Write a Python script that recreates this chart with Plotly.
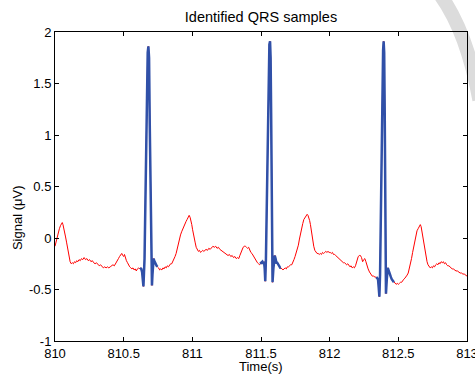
import plotly.graph_objects as go

# ---------------- data ----------------
x_ticks = [810, 810.5, 811, 811.5, 812, 812.5, 813]
x_ticktext = ["810", "810.5", "811", "811.5", "812", "812.5", "813"]
y_ticks = [-1, -0.5, 0, 0.5, 1, 1.5, 2]
y_ticktext = ["-1", "-0.5", "0", "0.5", "1", "1.5", "2"]

# baseline (non-QRS) segments
t_base1 = [810.000, 810.008, 810.016, 810.024, 810.032, 810.040, 810.047, 810.053, 810.058, 810.064,
           810.070, 810.077, 810.084, 810.090, 810.096, 810.102, 810.110, 810.118, 810.126, 810.134,
           810.142, 810.150, 810.158, 810.166, 810.175, 810.184, 810.193, 810.202, 810.212, 810.222,
           810.232, 810.242, 810.252, 810.262, 810.272, 810.282, 810.292, 810.302, 810.312, 810.322,
           810.332, 810.342, 810.352, 810.362, 810.372, 810.382, 810.392, 810.402, 810.412, 810.422,
           810.432, 810.442, 810.452, 810.462, 810.470, 810.478, 810.486, 810.494, 810.500, 810.506,
           810.512, 810.520, 810.528, 810.536, 810.544, 810.552, 810.560, 810.568, 810.576, 810.584,
           810.592, 810.600, 810.608, 810.614, 810.620]
v_base1 = [-0.08, -0.03, 0.02, 0.06, 0.09, 0.12, 0.14, 0.15, 0.13, 0.10,
           0.06, 0.01, -0.04, -0.09, -0.15, -0.20, -0.23, -0.25, -0.24, -0.25,
           -0.23, -0.24, -0.22, -0.23, -0.21, -0.22, -0.20, -0.21, -0.19, -0.21,
           -0.20, -0.22, -0.21, -0.23, -0.22, -0.24, -0.25, -0.24, -0.26, -0.27,
           -0.26, -0.28, -0.29, -0.28, -0.29, -0.28, -0.29, -0.28, -0.27, -0.26,
           -0.27, -0.25, -0.23, -0.20, -0.18, -0.16, -0.15, -0.17, -0.18, -0.16,
           -0.19, -0.22, -0.24, -0.27, -0.28, -0.29, -0.30, -0.29, -0.31, -0.30,
           -0.32, -0.30, -0.29, -0.30, -0.29]

t_qrs1 = [810.620, 810.628, 810.634, 810.640, 810.644, 810.652, 810.660, 810.668, 810.675, 810.680,
          810.685, 810.690, 810.696, 810.702, 810.706, 810.710, 810.714, 810.718, 810.722, 810.728,
          810.734, 810.740, 810.746]
v_qrs1 = [-0.29, -0.30, -0.33, -0.40, -0.47, -0.20, 0.50, 1.30, 1.80, 1.86,
          1.75, 1.10, 0.30, -0.30, -0.46, -0.35, -0.22, -0.20, -0.22, -0.24,
          -0.26, -0.27, -0.28]

t_base2 = [810.746, 810.754, 810.762, 810.770, 810.778, 810.786, 810.794, 810.802, 810.810, 810.818,
           810.826, 810.834, 810.842, 810.850, 810.858, 810.866, 810.874, 810.882, 810.890, 810.898,
           810.906, 810.914, 810.922, 810.930, 810.938, 810.946, 810.954, 810.962, 810.970, 810.977,
           810.984, 810.990, 810.996, 811.002, 811.008, 811.014, 811.020, 811.028, 811.036, 811.044,
           811.052, 811.060, 811.068, 811.076, 811.084, 811.092, 811.100, 811.110, 811.120, 811.130,
           811.140, 811.150, 811.160, 811.170, 811.180, 811.190, 811.200, 811.210, 811.220, 811.230,
           811.240, 811.250, 811.260, 811.270, 811.280, 811.290, 811.300, 811.310, 811.320, 811.330,
           811.338, 811.346, 811.354, 811.362, 811.370, 811.378, 811.386, 811.394, 811.402, 811.410,
           811.418, 811.426, 811.434, 811.442, 811.450, 811.458, 811.466, 811.474, 811.482, 811.490,
           811.494]
v_base2 = [-0.28, -0.29, -0.31, -0.30, -0.31, -0.29, -0.30, -0.28, -0.29, -0.27,
           -0.28, -0.26, -0.25, -0.25, -0.23, -0.21, -0.18, -0.15, -0.10, -0.04,
           0.00, 0.03, 0.06, 0.09, 0.12, 0.14, 0.16, 0.18, 0.20, 0.22,
           0.20, 0.17, 0.13, 0.08, 0.03, -0.01, -0.04, -0.09, -0.12, -0.13,
           -0.12, -0.14, -0.13, -0.12, -0.13, -0.12, -0.11, -0.12, -0.10, -0.11,
           -0.09, -0.08, -0.09, -0.08, -0.10, -0.09, -0.11, -0.12, -0.13, -0.14,
           -0.15, -0.16, -0.17, -0.16, -0.18, -0.17, -0.19, -0.18, -0.20, -0.19,
           -0.20, -0.17, -0.14, -0.11, -0.09, -0.08, -0.08, -0.09, -0.10, -0.09,
           -0.12, -0.14, -0.15, -0.17, -0.19, -0.21, -0.23, -0.24, -0.25, -0.26,
           -0.25]

t_qrs2 = [811.494, 811.502, 811.510, 811.516, 811.522, 811.527, 811.531, 811.536, 811.542, 811.548,
          811.555, 811.561, 811.566, 811.570, 811.574, 811.578, 811.581, 811.584, 811.590, 811.596,
          811.600, 811.606, 811.612, 811.618, 811.625, 811.632, 811.640, 811.645]
v_qrs2 = [-0.25, -0.24, -0.23, -0.25, -0.23, -0.30, -0.42, -0.20, 0.40, 1.10,
          1.65, 1.88, 1.91, 1.75, 1.20, 0.50, -0.10, -0.43, -0.30, -0.18,
          -0.17, -0.20, -0.24, -0.24, -0.26, -0.27, -0.29, -0.29]

t_base3 = [811.645, 811.652, 811.660, 811.668, 811.676, 811.684, 811.692, 811.700, 811.708, 811.716,
           811.724, 811.732, 811.740, 811.748, 811.756, 811.764, 811.772, 811.780, 811.788, 811.796,
           811.804, 811.812, 811.820, 811.828, 811.836, 811.842, 811.848, 811.854, 811.860, 811.866,
           811.872, 811.878, 811.884, 811.892, 811.900, 811.908, 811.916, 811.924, 811.932, 811.940,
           811.948, 811.956, 811.964, 811.972, 811.980, 811.988, 811.996, 812.004, 812.012, 812.020,
           812.028, 812.036, 812.044, 812.052, 812.060, 812.068, 812.076, 812.084, 812.092, 812.100,
           812.108, 812.116, 812.124, 812.132, 812.140, 812.148, 812.156, 812.164, 812.172, 812.180,
           812.188, 812.194, 812.200, 812.208, 812.216, 812.224, 812.232, 812.240, 812.248, 812.256,
           812.264, 812.272, 812.280, 812.290, 812.300, 812.310, 812.320, 812.330, 812.340]
v_base3 = [-0.29, -0.30, -0.31, -0.30, -0.29, -0.30, -0.28, -0.28, -0.27, -0.26,
           -0.26, -0.24, -0.21, -0.18, -0.15, -0.11, -0.07, -0.01, 0.05, 0.10,
           0.14, 0.18, 0.20, 0.22, 0.23, 0.22, 0.20, 0.17, 0.13, 0.07,
           0.01, -0.04, -0.08, -0.12, -0.14, -0.15, -0.15, -0.16, -0.15, -0.16,
           -0.14, -0.15, -0.14, -0.13, -0.14, -0.13, -0.14, -0.14, -0.15, -0.14,
           -0.16, -0.16, -0.17, -0.18, -0.19, -0.20, -0.21, -0.22, -0.23, -0.24,
           -0.24, -0.25, -0.26, -0.25, -0.27, -0.28, -0.27, -0.29, -0.28, -0.29,
           -0.27, -0.24, -0.20, -0.18, -0.17, -0.17, -0.19, -0.23, -0.21, -0.20,
           -0.23, -0.27, -0.30, -0.33, -0.35, -0.37, -0.37, -0.38, -0.38]

t_qrs3 = [812.340, 812.346, 812.352, 812.357, 812.362, 812.367, 812.372, 812.378, 812.384, 812.389,
          812.393, 812.397, 812.401, 812.405, 812.408, 812.410, 812.416, 812.423, 812.428, 812.434,
          812.440, 812.446, 812.452, 812.458, 812.464, 812.468]
v_qrs3 = [-0.38, -0.39, -0.40, -0.48, -0.57, -0.35, 0.20, 0.90, 1.50, 1.82,
          1.91, 1.80, 1.20, 0.40, -0.20, -0.54, -0.40, -0.29, -0.31, -0.34,
          -0.37, -0.38, -0.40, -0.41, -0.42, -0.43]

t_base4 = [812.468, 812.476, 812.484, 812.492, 812.500, 812.508, 812.516, 812.524, 812.532, 812.540,
           812.548, 812.556, 812.564, 812.572, 812.580, 812.588, 812.596, 812.604, 812.612, 812.620,
           812.628, 812.636, 812.644, 812.652, 812.660, 812.666, 812.672, 812.678, 812.684, 812.690,
           812.696, 812.702, 812.709, 812.716, 812.724, 812.732, 812.740, 812.748, 812.756, 812.764,
           812.772, 812.780, 812.788, 812.796, 812.804, 812.812, 812.820, 812.828, 812.836, 812.844,
           812.852, 812.860, 812.868, 812.876, 812.884, 812.892, 812.900, 812.910, 812.920, 812.930,
           812.940, 812.950, 812.960, 812.970, 812.980, 812.990, 813.000]
v_base4 = [-0.43, -0.44, -0.45, -0.44, -0.45, -0.44, -0.43, -0.43, -0.41, -0.40,
           -0.39, -0.38, -0.36, -0.34, -0.30, -0.26, -0.20, -0.14, -0.08, -0.01,
           0.04, 0.07, 0.09, 0.12, 0.13, 0.11, 0.06, 0.00, -0.05, -0.11,
           -0.16, -0.20, -0.23, -0.26, -0.28, -0.29, -0.28, -0.29, -0.27, -0.28,
           -0.26, -0.25, -0.26, -0.24, -0.25, -0.23, -0.24, -0.23, -0.25, -0.24,
           -0.26, -0.27, -0.27, -0.28, -0.29, -0.30, -0.30, -0.31, -0.32, -0.32,
           -0.33, -0.34, -0.34, -0.35, -0.35, -0.36, -0.37]

# ---------------- build traces ----------------
t_signal = t_base1 + t_qrs1 + t_base2 + t_qrs2 + t_base3 + t_qrs3 + t_base4
v_signal = v_base1 + v_qrs1 + v_base2 + v_qrs2 + v_base3 + v_qrs3 + v_base4

t_qrs = t_qrs1 + [None] + t_qrs2 + [None] + t_qrs3
v_qrs = v_qrs1 + [None] + v_qrs2 + [None] + v_qrs3

FONT = "Liberation Sans, Arial, sans-serif"
W, H = 475, 377

fig = go.Figure()
fig.add_trace(go.Scatter(x=t_signal, y=v_signal, mode="lines",
                         line=dict(color="#ff0000", width=1), hoverinfo="skip",
                         showlegend=False))
fig.add_trace(go.Scatter(x=t_qrs, y=v_qrs, mode="lines",
                         line=dict(color="#3050a8", width=2.5), hoverinfo="skip",
                         showlegend=False, connectgaps=False))

axis_common = dict(showline=True, linecolor="black", linewidth=1, mirror="allticks",
                   ticks="inside", ticklen=4, tickcolor="black", showgrid=False,
                   zeroline=False, automargin=False, ticklabeloverflow="allow",
                   tickfont=dict(family=FONT, size=13, color="black"))

fig.update_layout(
    width=W, height=H,
    margin=dict(l=55, r=8, t=32, b=36, autoexpand=False),
    paper_bgcolor="white", plot_bgcolor="rgba(0,0,0,0)",
    xaxis=dict(range=[810, 813], tickvals=x_ticks, ticktext=x_ticktext, **axis_common),
    yaxis=dict(range=[-1, 2], tickvals=y_ticks, ticktext=y_ticktext, **axis_common),
    title=dict(text="Identified QRS samples", x=0.5, xref="paper", y=1 - 17 / H,
               yref="container", yanchor="middle", xanchor="center", automargin=False,
               font=dict(family=FONT, size=14.5, color="black")),
    annotations=[
        dict(text="Time(s)", xref="paper", yref="paper", x=0.5, y=-0.084,
             xanchor="center", yanchor="middle", showarrow=False,
             font=dict(family=FONT, size=13, color="black")),
        dict(text="Signal (\u03bcV)", xref="paper", yref="paper", x=-0.092, y=0.398,
             xanchor="center", yanchor="middle", showarrow=False, textangle=-90,
             font=dict(family=FONT, size=13, color="black")),
    ],
    shapes=[
        dict(type="path", xref="paper", yref="paper",
             path="M 0.935,1.12 Q 1.0,1.0 1.03,0.78",
             line=dict(color="#dcdcdc", width=14), layer="below"),
    ],
)

# remove the browser's default 8px body margin so the figure fills the window exactly
fig.write_html("out.html",
               config={"displayModeBar": False},
               post_script="document.body.style.margin='0';document.body.style.overflow='hidden';")
